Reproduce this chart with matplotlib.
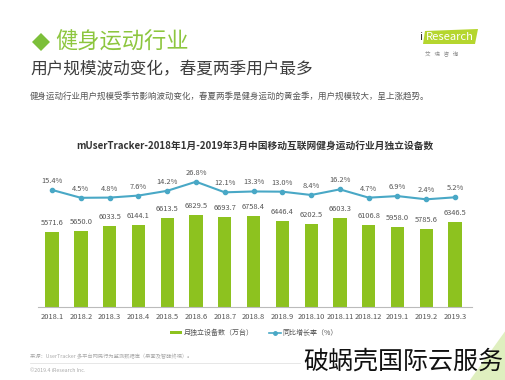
import matplotlib
matplotlib.use("Agg")
import matplotlib.pyplot as plt
from matplotlib.patches import Polygon
from matplotlib.lines import Line2D
from matplotlib.patches import Patch

plt.rcParams['font.family'] = ['Noto Sans CJK SC', 'DejaVu Sans']

months = ["2018.1", "2018.2", "2018.3", "2018.4", "2018.5", "2018.6", "2018.7", "2018.8",
          "2018.9", "2018.10", "2018.11", "2018.12", "2019.1", "2019.2", "2019.3"]
devices = [5571.6, 5650.0, 6033.5, 6144.1, 6613.5, 6829.5, 6693.7, 6758.4,
           6446.4, 6202.5, 6603.3, 6106.8, 5958.0, 5785.6, 6346.5]
growth = [15.4, 4.5, 4.8, 7.6, 14.2, 26.8, 12.1, 13.3, 13.0, 8.4, 16.2, 4.7, 6.9, 2.4, 5.2]

W, H = 506, 380
fig = plt.figure(figsize=(W / 100, H / 100), dpi=100)
fig.patch.set_facecolor("white")

def fx(x):
    return x / W

def fy(y):
    return 1 - y / H

GREEN = "#8dc21f"
LINE = "#49a8c6"

# header
fig.patches.append(Polygon([[fx(32), fy(42)], [fx(41), fy(33)], [fx(50), fy(42)], [fx(41), fy(51)]],
                           closed=True, transform=fig.transFigure, facecolor="#7cbf3a", edgecolor="none"))
fig.text(fx(55), fy(42), "健身运动行业", fontsize=16, color="#8dc63f", va="center", ha="left")
fig.text(fx(30), fy(70), "用户规模波动变化，春夏两季用户最多", fontsize=12, color="#3d3d3d",
         va="center", ha="left")
fig.text(fx(30), fy(96), "健身运动行业用户规模受季节影响波动变化，春夏两季是健身运动的黄金季，用户规模较大，呈上涨趋势。",
         fontsize=6.1, color="#555555", va="center", ha="left")

# logo
fig.patches.append(Polygon([[fx(423), fy(44)], [fx(425), fy(31)], [fx(478), fy(29)], [fx(475), fy(44)]],
                           closed=True, transform=fig.transFigure, facecolor="#b5d62e", edgecolor="none"))
fig.text(fx(421), fy(37.5), "i", fontsize=8, color="#333333", va="center", ha="center")
fig.text(fx(450), fy(37.5), "Research", fontsize=8, color="white",
         va="center", ha="center")
fig.text(fx(442), fy(53), "艾   瑞   咨   询", fontsize=4, color="#888888", va="center", ha="center")

# chart title
fig.text(fx(255), fy(146), "mUserTracker-2018年1月-2019年3月中国移动互联网健身运动行业月独立设备数",
         fontsize=7, fontweight="bold", color="#333333", va="center", ha="center")

# axes
ax = fig.add_axes([fx(38), fy(307), (472 - 38) / W, (307 - 140) / H])
x = list(range(len(months)))
ax.bar(x, devices, width=0.46, color=GREEN, zorder=2)
ax.set_xlim(-0.49, 14.59)
ax.set_ylim(0, 12460)
for s in ["top", "left", "right"]:
    ax.spines[s].set_visible(False)
ax.spines["bottom"].set_color("#bbbbbb")
ax.spines["bottom"].set_linewidth(0.8)
ax.set_yticks([])
ax.set_xticks(x)
ax.set_xticklabels(months, fontsize=5.4, color="#555555")
ax.tick_params(axis="x", length=0, pad=4)
for xi, v in zip(x, devices):
    ax.text(xi, v + 380, f"{v:.1f}", ha="center", va="bottom", fontsize=5.4, color="#555555")

ax2 = ax.twinx()
ax2.set_ylim(-147, 84.7)
ax2.plot(x, growth, color=LINE, lw=1.5, marker="o", markersize=3, zorder=3)
ax2.axis("off")
for xi, g in zip(x, growth):
    ax2.text(xi, g + 7, f"{g:.1f}%", ha="center", va="bottom", fontsize=5.4, color="#555555")

handles = [Patch(facecolor=GREEN, edgecolor="none"),
           Line2D([0], [0], color=LINE, lw=1.2, marker="o", markersize=2.5)]
fig.legend(handles, ["月独立设备数（万台）", "同比增长率（%）"], loc="center",
           bbox_to_anchor=(fx(254), fy(333)), ncol=2, frameon=False, fontsize=5,
           handlelength=1.7, handleheight=0.4, handletextpad=0.3, columnspacing=2.2,
           labelcolor="#555555")

# footer
fig.text(fx(30), fy(356), "来源：UserTracker 多平台网民行为监测数据库（桌面及智能终端）。", fontsize=3.8,
         color="#aaaaaa", va="center", ha="left")
fig.add_artist(Line2D([fx(30), fx(300)], [fy(363), fy(363)], color="#dddddd", lw=0.5,
                      transform=fig.transFigure))
fig.text(fx(30), fy(371), "©2019.4 iResearch Inc.", fontsize=3.8, color="#aaaaaa",
         va="center", ha="left")

# corner decoration and watermark
fig.patches.append(Polygon([[fx(470), fy(380)], [fx(506), fy(330)], [fx(506), fy(380)]],
                           closed=True, transform=fig.transFigure, facecolor="#d8ecb0",
                           edgecolor="none", alpha=0.8))
fig.text(fx(403), fy(362), "破蜗壳国际云服务", fontsize=18, color="#111111",
         fontweight="light", va="center", ha="center")

fig.savefig("out.png", dpi=100, facecolor="white")
